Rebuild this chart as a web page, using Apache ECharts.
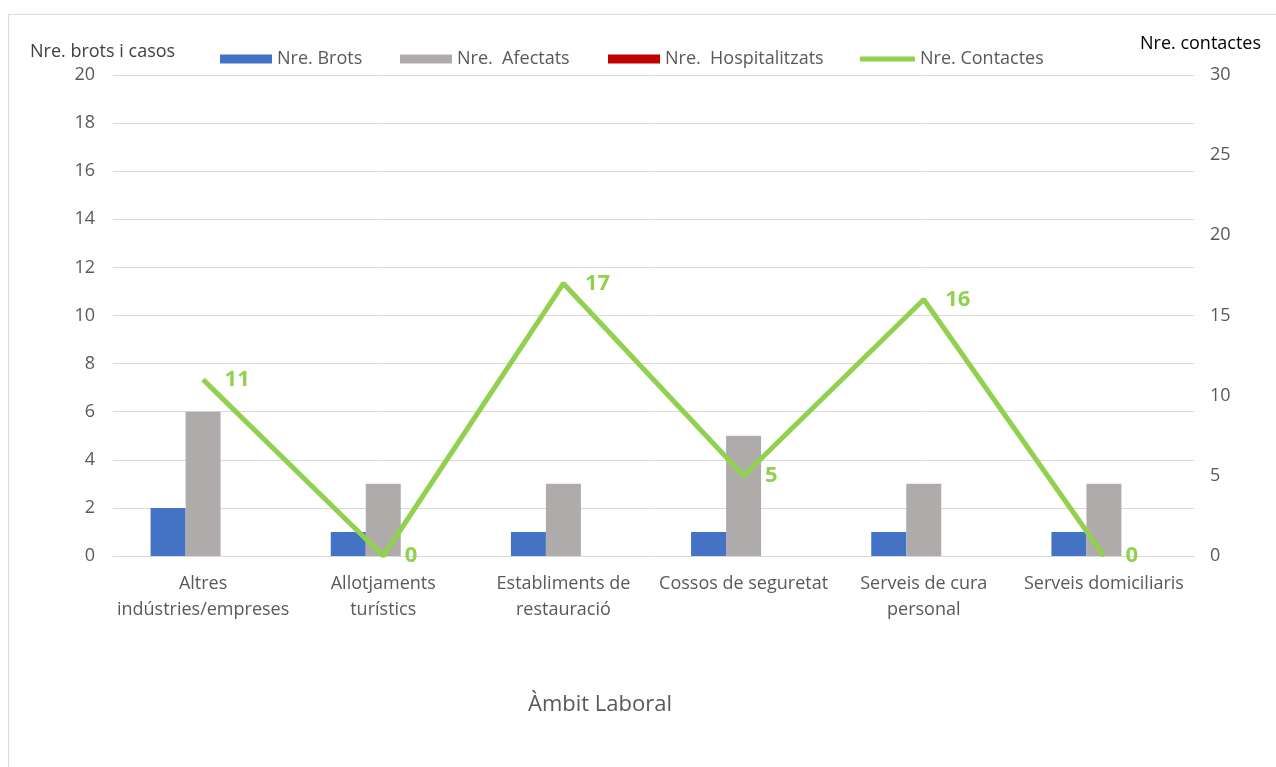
<!DOCTYPE html>
<html>
<head>
<meta charset="utf-8">
<script src="https://cdn.jsdelivr.net/npm/echarts@6/dist/echarts.min.js"></script>
<style>
  html, body { margin: 0; padding: 0; background: #fff; }
  #chart { width: 1276px; height: 767px; }
</style>
</head>
<body>
<div id="chart"></div>
<script>
// categories (with the line breaks as they wrap in the picture)
const categories = [
  'Altres\nindústries/empreses',
  'Allotjaments\nturístics',
  'Establiments de\nrestauració',
  'Cossos de seguretat',
  'Serveis de cura\npersonal',
  'Serveis domiciliaris'
];
const brots = [2, 1, 1, 1, 1, 1];
const afectats = [6, 3, 3, 5, 3, 3];
const hospitalitzats = [0, 0, 0, 0, 0, 0];
const contactes = [11, 0, 17, 5, 16, 0];

const FONT = '"Open Sans"';
const GREY_TXT = '#595959';

const chart = echarts.init(document.getElementById('chart'));

const legendBase = {
  top: 50,
  padding: 0,
  itemWidth: 52,
  itemHeight: 9,
  textStyle: { color: GREY_TXT, fontSize: 18, fontFamily: FONT },
  selectedMode: false
};

chart.setOption({
  animation: false,
  backgroundColor: '#fff',
  textStyle: { fontFamily: FONT },
  grid: { left: 113, right: 82, top: 75, bottom: 211 },
  legend: [
    Object.assign({}, legendBase, { left: 220, data: [{ name: 'Nre. Brots', icon: 'rect' }] }),
    Object.assign({}, legendBase, { left: 400, data: [{ name: 'Nre.  Afectats', icon: 'rect' }] }),
    Object.assign({}, legendBase, { left: 608, data: [{ name: 'Nre.  Hospitalitzats', icon: 'rect' }] }),
    Object.assign({}, legendBase, {
      left: 860, itemWidth: 55, itemHeight: 5,
      data: [{ name: 'Nre. Contactes', icon: 'roundRect' }]
    })
  ],
  graphic: [
    {
      type: 'rect', silent: true, z: -1,
      shape: { x: 8.5, y: 14.5, width: 1300, height: 800 },
      style: { fill: 'none', stroke: '#d9d9d9', lineWidth: 1 }
    },
    {
      type: 'text', x: 30, y: 52,
      style: { text: 'Nre. brots i casos', fill: '#404040', fontSize: 18, fontFamily: FONT, verticalAlign: 'middle' }
    },
    {
      type: 'text', x: 1140, y: 44,
      style: { text: 'Nre. contactes', fill: '#000', fontSize: 18, fontFamily: FONT, verticalAlign: 'middle' }
    },
    {
      type: 'text', x: 600, y: 705,
      style: { text: 'Àmbit Laboral', fill: GREY_TXT, fontSize: 22, fontFamily: FONT, align: 'center', verticalAlign: 'middle' }
    }
  ],
  xAxis: {
    type: 'category',
    data: categories,
    axisTick: { show: false },
    axisLine: { lineStyle: { color: '#d9d9d9', width: 1 } },
    axisLabel: {
      color: GREY_TXT, fontSize: 18, fontFamily: FONT,
      margin: 15, lineHeight: 26, interval: 0
    }
  },
  yAxis: [
    {
      type: 'value', min: 0, max: 20, interval: 2,
      axisLine: { show: false }, axisTick: { show: false },
      axisLabel: { color: GREY_TXT, fontSize: 18, fontFamily: FONT, margin: 18 },
      splitLine: { lineStyle: { color: '#d9d9d9', width: 1 } }
    },
    {
      type: 'value', min: 0, max: 30, interval: 5,
      axisLine: { show: false }, axisTick: { show: false },
      axisLabel: { color: GREY_TXT, fontSize: 18, fontFamily: FONT, margin: 16, align: 'left' },
      splitLine: { show: false }
    }
  ],
  series: [
    {
      name: 'Nre. Brots', type: 'bar', data: brots,
      barWidth: 35, barGap: '0%',
      itemStyle: { color: '#4472c4' }
    },
    {
      name: 'Nre.  Afectats', type: 'bar', data: afectats,
      barWidth: 35, barGap: '0%',
      itemStyle: { color: '#afabab' }
    },
    {
      name: 'Nre.  Hospitalitzats', type: 'bar', data: hospitalitzats,
      barWidth: 35, barGap: '0%',
      itemStyle: { color: '#c00000' }
    },
    {
      name: 'Nre. Contactes', type: 'line', yAxisIndex: 1, data: contactes,
      symbol: 'circle', symbolSize: 1, showSymbol: true,
      lineStyle: { color: '#92d050', width: 5 },
      itemStyle: { color: '#92d050' },
      label: {
        show: true, position: 'right', distance: 21,
        color: '#92d050', fontSize: 22, fontWeight: 'bold', fontFamily: FONT
      },
      z: 5
    }
  ]
});
</script>
</body>
</html>
